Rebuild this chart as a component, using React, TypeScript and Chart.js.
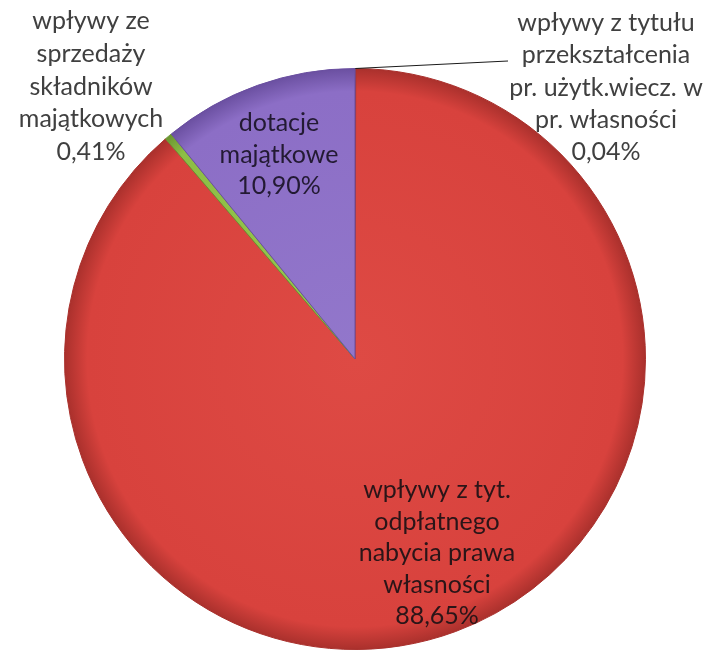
import React, { useEffect, useRef } from "react";
import { Chart, registerables } from "chart.js";

Chart.register(...registerables);

const categories = [
  "wpływy z tytułu przekształcenia pr. użytk.wiecz. w pr. własności",
  "wpływy z tyt. odpłatnego nabycia prawa własności",
  "wpływy ze sprzedaży składników majątkowych",
  "dotacje majątkowe",
];
const values = [0.04, 88.65, 0.41, 10.9];
const labelLines = [
  ["wpływy z tytułu", "przekształcenia", "pr. użytk.wiecz. w", "pr. własności"],
  ["wpływy z tyt.", "odpłatnego", "nabycia prawa", "własności"],
  ["wpływy ze", "sprzedaży", "składników", "majątkowych"],
  ["dotacje", "majątkowe"],
];
const baseColors = ["#4F81BD", "#D8423D", "#8DBE45", "#8C6EC6"];
const edgeColors = ["#3A6296", "#A9302C", "#6A9430", "#6A4FA0"];
const lightColors = ["#5A8CC8", "#DE4A44", "#98C850", "#9277CB"];

// label layout: [centerX, firstLineCenterY, lineHeight, color]
const labelLayout: [number, number, number, string][] = [
  [606, 23, 32.3, "#404040"],
  [437, 490, 31.5, "#2a1518"],
  [91, 21, 32.8, "#404040"],
  [279, 123, 31.5, "#231a33"],
];

function fmt(v: number) {
  return v.toFixed(2).replace(".", ",") + "%";
}

const labelsPlugin = {
  id: "pieLabels",
  afterDatasetsDraw(chart: any) {
    const ctx = chart.ctx as CanvasRenderingContext2D;
    const meta = chart.getDatasetMeta(0);
    ctx.save();
    const arc0 = meta.data[0];
    if (arc0) {
      const a = (arc0.startAngle + arc0.endAngle) / 2;
      const sx = arc0.x + Math.cos(a) * arc0.outerRadius;
      const sy = arc0.y + Math.sin(a) * arc0.outerRadius;
      ctx.strokeStyle = "#1a1a1a";
      ctx.lineWidth = 1;
      ctx.beginPath();
      ctx.moveTo(sx, sy);
      ctx.lineTo(508, 61);
      ctx.stroke();
    }
    ctx.font = "25px Lato, 'Open Sans', sans-serif";
    ctx.textAlign = "center";
    ctx.textBaseline = "middle";
    values.forEach((v, i) => {
      const [cx, y0, lh, col] = labelLayout[i];
      const lines = [...labelLines[i], fmt(v)];
      ctx.fillStyle = col;
      lines.forEach((ln, j) => ctx.fillText(ln, cx, y0 + j * lh));
    });
    ctx.restore();
  },
};

export default function App() {
  const ref = useRef<HTMLCanvasElement>(null);
  useEffect(() => {
    if (!ref.current) return;
    const chart = new Chart(ref.current, {
      type: "pie",
      data: {
        labels: categories,
        datasets: [
          {
            data: values,
            backgroundColor: (c: any) => {
              const ch = c.chart;
              const area = ch.chartArea;
              const i = c.dataIndex;
              if (!area) return baseColors[i];
              const cx = (area.left + area.right) / 2;
              const cy = (area.top + area.bottom) / 2;
              const r = Math.min(area.right - area.left, area.bottom - area.top) / 2;
              const g = ch.ctx.createRadialGradient(cx, cy, 0, cx, cy, r);
              g.addColorStop(0, lightColors[i]);
              g.addColorStop(0.92, baseColors[i]);
              g.addColorStop(1, edgeColors[i]);
              return g;
            },
            borderColor: edgeColors,
            borderWidth: 1,
          },
        ],
      },
      options: {
        responsive: false,
        animation: false,
        layout: { padding: { top: 68, bottom: 2, left: 64, right: 62 } },
        plugins: {
          legend: { display: false },
          tooltip: { enabled: false },
        },
      },
      plugins: [labelsPlugin],
    });
    return () => chart.destroy();
  }, []);
  return (
    <div style={{ position: "fixed", left: 0, top: 0, width: 708, height: 652, background: "#fff" }}>
      <canvas ref={ref} width={708} height={652} style={{ display: "block" }} />
    </div>
  );
}
